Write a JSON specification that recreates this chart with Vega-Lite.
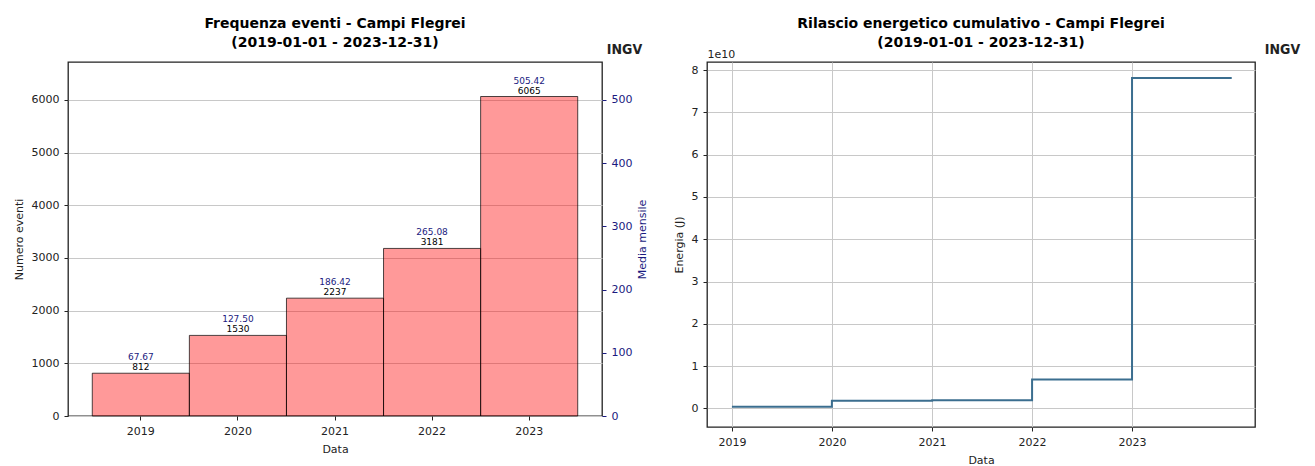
{
  "$schema": "https://vega.github.io/schema/vega-lite/v6.json",
  "padding": {"left": 12, "top": 16, "right": 5, "bottom": 2},
  "bounds": "flush",
  "spacing": 105,
  "config": {
    "font": "DejaVu Sans",
    "background": "white",
    "view": {"stroke": "#222222", "strokeWidth": 1.3},
    "axis": {
      "labelFontSize": 11, "titleFontSize": 11, "titleFontWeight": "normal", "labelFontWeight": "normal",
      "labelColor": "#222222", "titleColor": "#222222", "tickColor": "#222222",
      "tickSize": 4, "labelPadding": 5, "titlePadding": 7, "domain": false,
      "gridColor": "#c8c8c8", "gridWidth": 1
    },
    "title": {"fontSize": 14, "fontWeight": "bold", "color": "black", "frame": "group", "anchor": "middle", "lineHeight": 19, "offset": -8}
  },
  "hconcat": [
    {
      "width": 534,
      "height": 354,
      "title": {"text": ["Frequenza eventi - Campi Flegrei", "(2019-01-01 - 2023-12-31)"]},
      "data": {"values": [
        {"anno": "2019", "eventi": 812, "media": 67.67},
        {"anno": "2020", "eventi": 1530, "media": 127.50},
        {"anno": "2021", "eventi": 2237, "media": 186.42},
        {"anno": "2022", "eventi": 3181, "media": 265.08},
        {"anno": "2023", "eventi": 6065, "media": 505.42}
      ]},
      "encoding": {
        "x": {"field": "anno", "type": "ordinal",
          "scale": {"paddingInner": 0, "paddingOuter": 0.25},
          "axis": {"orient": "bottom", "title": "Data", "labelAngle": 0, "grid": false}}
      },
      "layer": [
        {
          "mark": {"type": "bar", "fill": "red", "fillOpacity": 0.4, "stroke": "black", "strokeOpacity": 0.7, "strokeWidth": 1},
          "encoding": {
            "y": {"field": "eventi", "type": "quantitative",
              "scale": {"domain": [0, 6720], "nice": false},
              "axis": {"orient": "left", "title": "Numero eventi", "format": "d", "values": [0, 1000, 2000, 3000, 4000, 5000, 6000], "grid": true}}
          }
        },
        {
          "mark": {"type": "text", "fontSize": 9, "color": "black", "baseline": "bottom", "dy": -1},
          "encoding": {
            "x": {"field": "anno", "type": "ordinal",
              "axis": {"orient": "top", "title": "INGV", "labels": false, "ticks": false, "domain": false, "grid": false,
                "titleX": 556, "titleY": -13, "titleAngle": 0, "titleAlign": "center", "titleBaseline": "middle",
                "titleFont": "DejaVu Sans Condensed", "titleFontSize": 14, "titleFontWeight": "bold", "titleColor": "#222222"}},
            "y": {"field": "eventi", "type": "quantitative", "scale": {"domain": [0, 6720], "nice": false}, "axis": null},
            "text": {"field": "eventi", "type": "quantitative", "format": "d"}
          }
        },
        {
          "mark": {"type": "text", "fontSize": 9, "color": "#1a1a80", "baseline": "bottom", "dy": -11},
          "encoding": {
            "x": {"field": "anno", "type": "ordinal", "axis": null},
            "y": {"field": "media", "type": "quantitative",
              "scale": {"domain": [0, 560], "nice": false},
              "axis": {"orient": "right", "title": "Media mensile", "values": [0, 100, 200, 300, 400, 500], "grid": false,
                "titleAngle": 270, "titleBaseline": "top",
                "labelColor": "#1a1a80", "titleColor": "#1a1a80", "tickColor": "#1a1a80", "titlePadding": 5}},
            "text": {"field": "media", "type": "quantitative", "format": ".2f"}
          }
        }
      ],
      "resolve": {"scale": {"y": "independent"}}
    },
    {
      "width": 548,
      "height": 365,
      "title": {"text": ["Rilascio energetico cumulativo - Campi Flegrei", "(2019-01-01 - 2023-12-31)"]},
      "data": {"values": [
        {"data": "2019-01-01", "energia": 400000000},
        {"data": "2020-01-01", "energia": 1800000000},
        {"data": "2021-01-01", "energia": 1900000000},
        {"data": "2022-01-01", "energia": 6850000000},
        {"data": "2023-01-01", "energia": 78100000000},
        {"data": "2023-12-31", "energia": 78100000000}
      ]},
      "encoding": {
        "x": {"field": "data", "type": "temporal",
          "scale": {"type": "utc", "domain": [{"year": 2018, "month": 10, "date": 2, "utc": true}, {"year": 2024, "month": 3, "date": 25, "utc": true}]},
          "axis": {"orient": "bottom", "title": "Data", "format": "%Y", "grid": true,
            "values": [{"year": 2019, "month": 1, "date": 1, "utc": true}, {"year": 2020, "month": 1, "date": 1, "utc": true}, {"year": 2021, "month": 1, "date": 1, "utc": true}, {"year": 2022, "month": 1, "date": 1, "utc": true}, {"year": 2023, "month": 1, "date": 1, "utc": true}]}},
        "y": {"field": "energia", "type": "quantitative",
          "scale": {"domain": [-4400000000, 81900000000], "nice": false, "zero": false},
          "axis": {"orient": "left", "title": "Energia (J)", "grid": true,
            "values": [0, 10000000000, 20000000000, 30000000000, 40000000000, 50000000000, 60000000000, 70000000000, 80000000000],
            "labelExpr": "format(datum.value / 1e10, 'd')"}}
      },
      "layer": [
        {
          "mark": {"type": "line", "interpolate": "step-after", "color": "#3b6e8f", "strokeWidth": 2}
        },
        {
          "mark": {"type": "point", "opacity": 0},
          "encoding": {
            "x": {"field": "data", "type": "temporal",
              "axis": {"orient": "top", "title": "1e10", "labels": false, "ticks": false, "domain": false, "grid": false,
                "titleAnchor": "start", "titleAlign": "left", "titlePadding": 3, "titleFontSize": 11}},
            "y": {"field": "energia", "type": "quantitative",
              "axis": {"orient": "right", "title": "INGV", "labels": false, "ticks": false, "domain": false, "grid": false,
                "titleX": 27, "titleY": -13, "titleAngle": 0, "titleAlign": "center", "titleBaseline": "middle",
                "titleFont": "DejaVu Sans Condensed", "titleFontSize": 14, "titleFontWeight": "bold"}}
          }
        }
      ]
    }
  ]
}
